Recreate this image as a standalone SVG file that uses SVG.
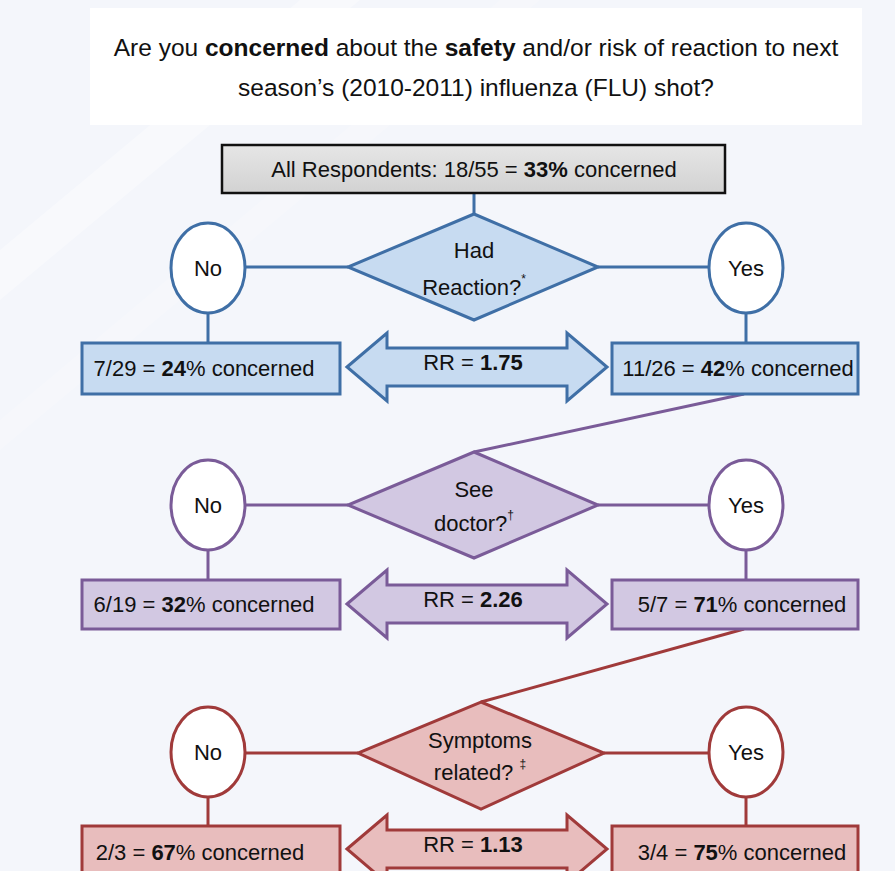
<svg xmlns="http://www.w3.org/2000/svg" width="895" height="871" viewBox="0 0 895 871">
<defs>
<style>
text{font-family:"Liberation Sans","Noto Sans",Arial,sans-serif;fill:#111;text-anchor:middle}
.t{font-size:24.5px}
.m{font-size:22px}
.d{font-size:22px}
.b{font-weight:bold}
.sup{font-size:12px}
.blue{stroke:#3f6fa6;stroke-width:3}
.purple{stroke:#7a5b98;stroke-width:3}
.red{stroke:#a03a3a;stroke-width:3}
.fb{fill:#c7dbf1}
.fp{fill:#d2c8e2}
.fr{fill:#e8bdbd}
.circ{fill:#fff}
line{fill:none}
</style>
<linearGradient id="gry" x1="0" y1="0" x2="0" y2="1">
<stop offset="0" stop-color="#e6e6e6"/>
<stop offset="1" stop-color="#d2d2d2"/>
</linearGradient>
</defs>
<rect x="0" y="0" width="895" height="871" fill="#f4f6fb"/>
<polygon points="0,250 300,0 360,0 0,300" fill="#ffffff" opacity="0.35"/>
<polygon points="0,420 500,0 540,0 0,450" fill="#ffffff" opacity="0.2"/>

<g id="title">
<rect x="90" y="8" width="772" height="117" fill="#ffffff"/>
<text class="t" x="476" y="56">Are you <tspan class="b">concerned</tspan> about the <tspan class="b">safety</tspan> and/or risk of reaction to next</text>
<text class="t" x="476" y="96">season’s (2010-2011) influenza (FLU) shot?</text>
</g>

<g id="connectors">
<line x1="474" y1="193" x2="474" y2="214" class="blue"/>
<line x1="245" y1="267" x2="348" y2="267" class="blue"/>
<line x1="598" y1="267" x2="709" y2="267" class="blue"/>
<line x1="208" y1="313" x2="208" y2="343" class="blue"/>
<line x1="746" y1="313" x2="746" y2="343" class="blue"/>
<line x1="744" y1="394" x2="474" y2="452" class="purple" stroke-width="4.5"/>
<line x1="245" y1="505" x2="348" y2="505" class="purple"/>
<line x1="598" y1="505" x2="709" y2="505" class="purple"/>
<line x1="208" y1="550" x2="208" y2="580" class="purple"/>
<line x1="746" y1="550" x2="746" y2="580" class="purple"/>
<line x1="744" y1="629" x2="481" y2="702" class="red" stroke-width="4.5"/>
<line x1="245" y1="753" x2="358" y2="753" class="red"/>
<line x1="604" y1="753" x2="709" y2="753" class="red"/>
<line x1="208" y1="797" x2="208" y2="826" class="red"/>
<line x1="746" y1="797" x2="746" y2="826" class="red"/>
</g>

<g id="all">
<rect x="222" y="145" width="503" height="48" fill="url(#gry)" stroke="#111" stroke-width="2.5"/>
<text class="m" x="474" y="177">All Respondents: 18/55 = <tspan class="b">33%</tspan> concerned</text>
</g>

<g id="d1">
<polygon points="474,214 598,267 474,320 348,267" class="fb blue"/>
<text class="d" x="474" y="258">Had</text>
<text class="d" x="474" y="295">Reaction?<tspan class="sup" dy="-12">*</tspan></text>
</g>
<g id="no1">
<ellipse cx="208" cy="268" rx="37" ry="45" class="circ blue"/>
<text class="d" x="208" y="276">No</text>
</g>
<g id="yes1">
<ellipse cx="746" cy="268" rx="37" ry="45" class="circ blue"/>
<text class="d" x="746" y="276">Yes</text>
</g>
<g id="box1l">
<rect x="82" y="343" width="258" height="51" class="fb blue" stroke-width="2.5"/>
<text class="m" x="204" y="376">7/29 = <tspan class="b">24</tspan>% concerned</text>
</g>
<g id="box1r">
<rect x="612" y="343" width="246" height="51" class="fb blue" stroke-width="2.5"/>
<text class="m" x="738" y="376">11/26 = <tspan class="b">42</tspan>% concerned</text>
</g>
<g id="rr1">
<path d="M347,367 L387,333 L387,348 L567,348 L567,333 L607,367 L567,401 L567,386 L387,386 L387,401 Z" class="fb blue" stroke-width="2.5"/>
<text class="m" x="473" y="370">RR = <tspan class="b">1.75</tspan></text>
</g>

<g id="d2">
<polygon points="474,452 598,505 474,558 348,505" class="fp purple"/>
<text class="d" x="474" y="497">See</text>
<text class="d" x="474" y="531">doctor?<tspan class="sup" dy="-12">†</tspan></text>
</g>
<g id="no2">
<ellipse cx="208" cy="505" rx="37" ry="45" class="circ purple"/>
<text class="d" x="208" y="513">No</text>
</g>
<g id="yes2">
<ellipse cx="746" cy="505" rx="37" ry="45" class="circ purple"/>
<text class="d" x="746" y="513">Yes</text>
</g>
<g id="box2l">
<rect x="82" y="580" width="258" height="49" class="fp purple" stroke-width="2.5"/>
<text class="m" x="204" y="612">6/19 = <tspan class="b">32</tspan>% concerned</text>
</g>
<g id="box2r">
<rect x="612" y="580" width="246" height="49" class="fp purple" stroke-width="2.5"/>
<text class="m" x="742" y="612">5/7 = <tspan class="b">71</tspan>% concerned</text>
</g>
<g id="rr2">
<path d="M347,604 L387,570 L387,585 L567,585 L567,570 L607,604 L567,638 L567,623 L387,623 L387,638 Z" class="fp purple" stroke-width="2.5"/>
<text class="m" x="473" y="607">RR = <tspan class="b">2.26</tspan></text>
</g>

<g id="d3">
<polygon points="481,702 604,753 481,809 358,753" class="fr red"/>
<text class="d" x="480" y="748">Symptoms</text>
<text class="d" x="480" y="780">related? <tspan class="sup" dy="-12">‡</tspan></text>
</g>
<g id="no3">
<ellipse cx="208" cy="752" rx="37" ry="45" class="circ red"/>
<text class="d" x="208" y="760">No</text>
</g>
<g id="yes3">
<ellipse cx="746" cy="752" rx="37" ry="45" class="circ red"/>
<text class="d" x="746" y="760">Yes</text>
</g>
<g id="box3l">
<rect x="82" y="826" width="258" height="60" class="fr red" stroke-width="2.5"/>
<text class="m" x="200" y="860">2/3 = <tspan class="b">67</tspan>% concerned</text>
</g>
<g id="box3r">
<rect x="612" y="826" width="246" height="60" class="fr red" stroke-width="2.5"/>
<text class="m" x="742" y="860">3/4 = <tspan class="b">75</tspan>% concerned</text>
</g>
<g id="rr3">
<path d="M347,849 L387,815 L387,830 L567,830 L567,815 L607,849 L567,883 L567,868 L387,868 L387,883 Z" class="fr red" stroke-width="2.5"/>
<text class="m" x="473" y="852">RR = <tspan class="b">1.13</tspan></text>
</g>
</svg>
